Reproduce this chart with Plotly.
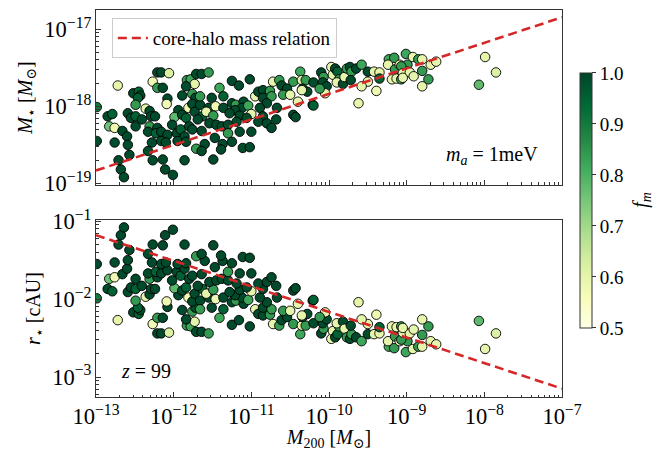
import plotly.graph_objects as go

# ---------------- data (log10 values) ----------------
# halo mass M200 [Msun], log10
log_m200 = [
    -12.99, -12.99, -12.72, -12.21, -12.16, -12.06, -12.27, -12.21, -12.14, -12.52,
    -12.45, -12.43, -12.46, -12.49, -12.36, -12.31, -12.08, -12.09, -11.89, -11.83,
    -11.78, -11.73, -11.84, -11.71, -11.64, -11.76, -11.72, -11.81, -11.76, -11.94,
    -11.99, -11.89, -11.84, -11.73, -11.63, -12.85, -12.79, -12.83, -12.76, -12.59,
    -12.55, -12.49, -12.41, -12.49, -12.29, -12.24, -12.31, -12.33, -12.21, -12.23,
    -12.12, -12.16, -12.08, -12.02, -11.96, -11.91, -11.86, -11.80, -11.76, -11.69,
    -11.64, -12.66, -12.60, -12.59, -12.76, -12.28, -12.16, -12.10, -11.95, -11.84,
    -11.71, -12.33, -12.57, -12.71, -12.27, -12.14, -11.86, -12.68, -12.64, -12.11,
    -12.01, -11.66,
    -11.55, -11.25, -11.02, -11.16, -11.41, -11.51, -11.36, -11.66, -11.55, -11.46,
    -11.58, -11.49, -11.36, -11.25, -11.20, -11.10, -11.12, -11.04, -11.21, -11.28,
    -11.15, -11.00, -11.06, -10.95, -10.91, -10.85, -10.85, -10.76, -10.72, -10.64,
    -10.61, -10.54, -10.59, -10.50, -10.46, -10.37, -10.35, -10.30, -10.40, -10.74,
    -10.80, -10.89, -10.85, -10.91, -10.80, -10.74, -10.68, -10.67, -10.46, -10.43,
    -11.54, -11.45, -11.38, -11.30, -11.19, -11.15, -11.00, -11.47, -11.37, -11.25,
    -11.39, -11.11, -11.02, -11.60, -11.64, -11.49, -11.30, -10.34, -10.28,
    -10.35, -10.20, -10.10, -10.07, -10.08, -10.03, -10.05, -9.97, -9.95, -9.92,
    -9.89, -9.87, -9.90, -9.82, -9.80, -9.77, -9.73, -9.71, -9.72, -9.65,
    -9.58, -9.50, -9.42, -9.35, -9.50, -9.58, -9.39, -9.35, -9.23, -9.16,
    -9.24, -9.15, -9.09, -9.01, -8.99, -9.19, -9.13, -9.07, -8.98, -10.21,
    -10.20, -9.62, -10.12,
    -8.92, -8.85, -8.80, -8.69, -8.62, -9.07, -9.05, -8.96, -8.91, -8.80,
    -8.72, -8.80, -9.05, -7.99, -7.85, -8.07,
]

# soliton mass M_star [Msun], log10
log_mstar = [
    -18.01, -18.45, -17.73, -17.56, -17.56, -17.57, -17.68, -17.76, -17.76, -17.83,
    -17.81, -17.86, -17.89, -17.98, -18.03, -18.06, -17.90, -17.97, -17.86, -17.66,
    -17.65, -17.71, -17.74, -17.58, -17.58, -17.84, -17.89, -18.02, -17.97, -18.05,
    -18.14, -18.11, -18.15, -18.07, -18.13, -18.13, -18.10, -18.26, -18.28, -18.09,
    -18.15, -18.13, -18.17, -18.26, -18.13, -18.13, -18.26, -18.33, -18.28, -18.35,
    -18.39, -18.33, -18.37, -18.24, -18.35, -18.30, -18.39, -18.26, -18.30, -18.17,
    -18.32, -18.32, -18.39, -18.50, -18.47, -18.47, -18.45, -18.47, -18.45, -18.46,
    -18.55, -18.58, -18.63, -18.70, -18.70, -18.69, -18.70, -18.82, -18.92, -18.82,
    -18.89, -17.98,
    -17.56, -17.67, -17.65, -17.73, -17.76, -17.89, -17.87, -17.87, -18.02, -18.00,
    -18.07, -18.12, -18.02, -17.96, -17.98, -17.94, -18.02, -17.99, -18.05, -18.09,
    -18.12, -18.10, -18.15, -17.87, -17.81, -17.79, -17.89, -17.80, -17.68, -17.66,
    -17.73, -17.77, -17.85, -17.85, -17.68, -17.55, -17.66, -17.66, -17.94, -17.87,
    -17.96, -18.02, -18.13, -18.20, -18.22, -18.28, -18.17, -18.02, -18.11, -18.14,
    -18.22, -18.24, -18.26, -18.24, -18.20, -18.33, -18.33, -18.41, -18.49, -18.46,
    -18.56, -18.54, -18.53, -18.49, -18.58, -18.69, -18.35, -17.77, -17.81,
    -17.79, -17.69, -17.56, -17.62, -17.69, -17.74, -17.83, -17.49, -17.59, -17.51,
    -17.55, -17.65, -17.69, -17.71, -17.62, -17.51, -17.49, -17.55, -17.66, -17.51,
    -17.46, -17.55, -17.55, -17.56, -17.68, -17.74, -17.80, -17.64, -17.39, -17.37,
    -17.46, -17.52, -17.46, -17.32, -17.46, -17.65, -17.64, -17.65, -17.55, -17.98,
    -17.99, -17.96, -17.77,
    -17.36, -17.39, -17.39, -17.46, -17.42, -17.48, -17.57, -17.56, -17.61, -17.54,
    -17.65, -17.74, -17.63, -17.36, -17.56, -17.72,
]

# soliton radius r_star [cAU], log10
log_rstar = [
    -1.99, -1.55, -2.27, -2.44, -2.44, -2.43, -2.32, -2.24, -2.24, -2.17,
    -2.19, -2.14, -2.11, -2.02, -1.97, -1.94, -2.10, -2.03, -2.14, -2.34,
    -2.35, -2.29, -2.26, -2.42, -2.42, -2.16, -2.11, -1.98, -2.03, -1.95,
    -1.86, -1.89, -1.85, -1.93, -1.87, -1.87, -1.90, -1.74, -1.72, -1.91,
    -1.85, -1.87, -1.83, -1.74, -1.87, -1.87, -1.74, -1.67, -1.72, -1.65,
    -1.61, -1.67, -1.63, -1.76, -1.65, -1.70, -1.61, -1.74, -1.70, -1.83,
    -1.68, -1.68, -1.61, -1.50, -1.53, -1.53, -1.55, -1.53, -1.55, -1.54,
    -1.45, -1.42, -1.37, -1.30, -1.30, -1.31, -1.30, -1.18, -1.08, -1.18,
    -1.11, -2.02,
    -2.44, -2.33, -2.35, -2.27, -2.24, -2.11, -2.13, -2.13, -1.98, -2.00,
    -1.93, -1.88, -1.98, -2.04, -2.02, -2.06, -1.98, -2.01, -1.95, -1.91,
    -1.88, -1.90, -1.85, -2.13, -2.19, -2.21, -2.11, -2.20, -2.32, -2.34,
    -2.27, -2.23, -2.15, -2.15, -2.32, -2.45, -2.34, -2.34, -2.06, -2.13,
    -2.04, -1.98, -1.87, -1.80, -1.78, -1.72, -1.83, -1.98, -1.89, -1.86,
    -1.78, -1.76, -1.74, -1.76, -1.80, -1.67, -1.67, -1.59, -1.51, -1.54,
    -1.44, -1.46, -1.47, -1.51, -1.42, -1.31, -1.65, -2.23, -2.19,
    -2.21, -2.31, -2.44, -2.38, -2.31, -2.26, -2.17, -2.51, -2.41, -2.49,
    -2.45, -2.35, -2.31, -2.29, -2.38, -2.49, -2.51, -2.45, -2.34, -2.49,
    -2.54, -2.45, -2.45, -2.44, -2.32, -2.26, -2.20, -2.36, -2.61, -2.63,
    -2.54, -2.48, -2.54, -2.68, -2.54, -2.35, -2.36, -2.35, -2.45, -2.02,
    -2.01, -2.04, -2.23,
    -2.64, -2.61, -2.61, -2.54, -2.58, -2.52, -2.43, -2.44, -2.39, -2.46,
    -2.35, -2.26, -2.37, -2.64, -2.44, -2.28,
]

# f_m colour values
f_m = [
    0.90, 0.99, 0.60, 0.99, 0.99, 0.62, 0.58, 0.84, 0.99, 0.99,
    0.95, 0.99, 0.95, 0.84, 0.60, 0.99, 0.99, 0.58, 0.99, 0.84,
    0.82, 0.60, 0.99, 0.99, 0.99, 0.84, 0.99, 0.58, 0.99, 0.99,
    0.78, 0.99, 0.95, 0.99, 0.95, 0.99, 0.95, 0.76, 0.58, 0.99,
    0.99, 0.95, 0.99, 0.99, 0.99, 0.99, 0.84, 0.99, 0.99, 0.95,
    0.84, 0.99, 0.99, 0.99, 0.99, 0.95, 0.99, 0.99, 0.99, 0.99,
    0.99, 0.99, 0.99, 0.99, 0.99, 0.99, 0.99, 0.99, 0.99, 0.99,
    0.84, 0.99, 0.99, 0.99, 0.99, 0.99, 0.99, 0.99, 0.99, 0.99,
    0.99, 0.99,
    0.84, 0.99, 0.99, 0.99, 0.82, 0.99, 0.95, 0.84, 0.99, 0.58,
    0.60, 0.84, 0.99, 0.99, 0.84, 0.99, 0.99, 0.82, 0.99, 0.99,
    0.99, 0.60, 0.99, 0.60, 0.99, 0.99, 0.99, 0.84, 0.60, 0.84,
    0.99, 0.99, 0.84, 0.60, 0.84, 0.82, 0.60, 0.84, 0.60, 0.84,
    0.99, 0.99, 0.99, 0.99, 0.99, 0.99, 0.99, 0.99, 0.99, 0.99,
    0.99, 0.99, 0.99, 0.99, 0.99, 0.99, 0.99, 0.99, 0.99, 0.99,
    0.99, 0.99, 0.99, 0.99, 0.99, 0.99, 0.84, 0.99, 0.99,
    0.60, 0.99, 0.99, 0.84, 0.99, 0.99, 0.60, 0.60, 0.60, 0.99,
    0.95, 0.84, 0.60, 0.99, 0.60, 0.84, 0.99, 0.84, 0.99, 0.99,
    0.82, 0.99, 0.60, 0.60, 0.60, 0.60, 0.58, 0.95, 0.82, 0.84,
    0.60, 0.84, 0.60, 0.82, 0.84, 0.60, 0.60, 0.84, 0.60, 0.99,
    0.95, 0.60, 0.84,
    0.60, 0.84, 0.60, 0.60, 0.60, 0.84, 0.60, 0.60, 0.60, 0.84,
    0.84, 0.60, 0.60, 0.60, 0.62, 0.78,
]

# core-halo mass relation (straight line in log-log: end points)
line_m200 = [1e-13, 1e-7]
line_mstar = [1.47e-19, 1.43e-17]
line_rstar = [0.066, 7.1e-4]

cbar_ticks = [0.5, 0.6, 0.7, 0.8, 0.9, 1.0]
cbar_labels = ["0.5", "0.6", "0.7", "0.8", "0.9", "1.0"]

# ---------------------------------------------------------------------------
m200 = [10 ** v for v in log_m200]
mstar = [10 ** v for v in log_mstar]
rstar = [10 ** v for v in log_rstar]

ylgn = [
    [0.0, "#ffffe5"], [0.125, "#f7fcb9"], [0.25, "#d9f0a3"], [0.375, "#addd8e"],
    [0.5, "#78c679"], [0.625, "#41ab5d"], [0.75, "#238443"], [0.875, "#006837"],
    [1.0, "#004529"],
]

FONT = "Liberation Serif, Times New Roman, DejaVu Serif, serif"
AX = "#333333"
RED = "#d62728"


def marker(show):
    m = dict(color=f_m, colorscale=ylgn, cmin=0.5, cmax=1.0, size=9.5,
             opacity=1, line=dict(color="black", width=0.9))
    if show:
        m["showscale"] = True
        m["colorbar"] = dict(
            x=1.0386, xanchor="left", y=0.508, yanchor="middle",
            len=0.659, lenmode="fraction", thickness=12, thicknessmode="pixels",
            xpad=0, ypad=0,
            outlinewidth=1, outlinecolor=AX,
            tickvals=cbar_ticks, ticktext=cbar_labels,
            ticks="outside", ticklen=4, tickcolor=AX,
            tickfont=dict(family=FONT, size=19, color="black"),
        )
    else:
        m["showscale"] = False
    return m


fig = go.Figure()
fig.add_trace(go.Scatter(x=m200, y=mstar, mode="markers", marker=marker(True),
                         xaxis="x", yaxis="y", showlegend=False, hoverinfo="skip"))
fig.add_trace(go.Scatter(x=line_m200, y=line_mstar, mode="lines",
                         line=dict(color=RED, width=2.6, dash="9px,5px"),
                         name="core-halo mass relation", xaxis="x", yaxis="y"))
fig.add_trace(go.Scatter(x=m200, y=rstar, mode="markers", marker=marker(False),
                         xaxis="x2", yaxis="y2", showlegend=False, hoverinfo="skip"))
fig.add_trace(go.Scatter(x=line_m200, y=line_rstar, mode="lines",
                         line=dict(color=RED, width=2.6, dash="9px,5px"),
                         showlegend=False, xaxis="x2", yaxis="y2"))

common = dict(type="log", showline=True, mirror=True, linecolor=AX, linewidth=1,
              ticks="inside", ticklen=5, tickcolor=AX, dtick=1, automargin=False,
              exponentformat="power", showgrid=False, zeroline=False,
              minor=dict(ticks="inside", ticklen=2.5, tickcolor=AX, showgrid=False),
              tickfont=dict(family=FONT, size=18, color="black"))

fig.update_layout(
    width=672, height=451,
    margin=dict(l=96, r=110, t=10, b=54, autoexpand=False),
    paper_bgcolor="white", plot_bgcolor="white",
    font=dict(family=FONT, size=18, color="black"),
    xaxis=dict(**common, range=[-13, -7], domain=[0, 1], anchor="y",
               showticklabels=False, matches="x2"),
    yaxis=dict(**common, range=[-19.02, -16.75], domain=[0.548, 1.0], anchor="x",
               title=dict(text="<i>M</i><sub>⋆</sub> [<i>M</i><sub>⊙</sub>]",
                          font=dict(family=FONT, size=20), standoff=6)),
    xaxis2=dict(**common, range=[-13, -7], domain=[0, 1], anchor="y2",
                title=dict(text="<i>M</i><sub>200</sub> [<i>M</i><sub>⊙</sub>]",
                           font=dict(family=FONT, size=20), standoff=4)),
    yaxis2=dict(**common, range=[-3.256, -0.987], domain=[0, 0.457], anchor="x2",
                title=dict(text="<i>r</i><sub>⋆</sub> [cAU]",
                           font=dict(family=FONT, size=20), standoff=6)),
    legend=dict(x=0.034, y=0.979, xanchor="left", yanchor="top",
                bgcolor="white", bordercolor="#cccccc", borderwidth=1,
                font=dict(family=FONT, size=19, color="black")),
    annotations=[
        dict(text="<i>m<sub>a</sub></i> = 1meV", xref="paper", yref="paper",
             x=0.953, y=0.625, xanchor="right", yanchor="middle", showarrow=False,
             font=dict(family=FONT, size=20, color="black")),
        dict(text="<i>z</i> = 99", xref="paper", yref="paper",
             x=0.05, y=0.067, xanchor="left", yanchor="middle", showarrow=False,
             font=dict(family=FONT, size=20, color="black")),
        dict(text="<i>f<sub>m</sub></i>", xref="paper", yref="paper",
             x=1.17, y=0.51, xanchor="center", yanchor="middle", showarrow=False,
             textangle=-90, font=dict(family=FONT, size=20, color="black")),
    ],
)

fig.write_html("out.html")
